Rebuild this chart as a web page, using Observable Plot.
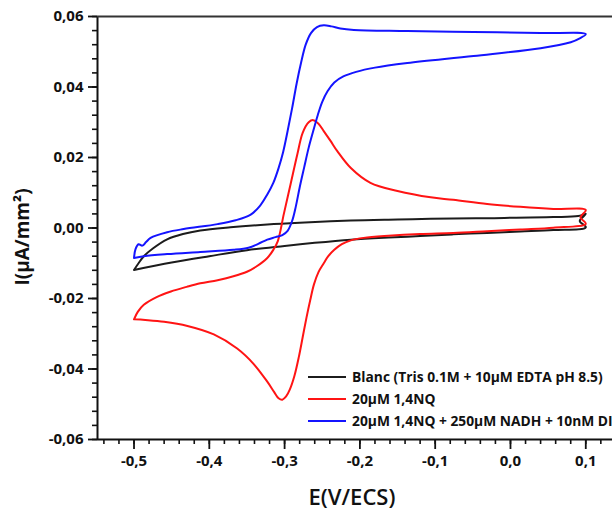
<!DOCTYPE html>
<html><head><meta charset="utf-8">
<script src="https://cdn.jsdelivr.net/npm/d3@7"></script>
<script src="https://cdn.jsdelivr.net/npm/@observablehq/plot@0.6"></script>
<style>body{margin:0;background:#fff} svg{display:block;overflow:hidden}</style>
</head><body><div id="chart"></div>
<script>
// Series names (legend)
const seriesNames = ["Blanc (Tris 0.1M + 10µM EDTA pH 8.5)", "20µM 1,4NQ", "20µM 1,4NQ + 250µM NADH + 10nM DI"];
const seriesColors = ["#1c1c1c", "#ff1414", "#1414ff"];

// Blank CV (E in V/ECS, I in µA/mm²)
const blancE = [-0.500,-0.494,-0.487,-0.475,-0.456,-0.435,-0.412,-0.372,-0.323,-0.280,-0.212,-0.150,-0.106,-0.031,0.057,0.090,0.100,0.092,0.100,0.057,0.013,-0.031,-0.076,-0.120,-0.162,-0.212,-0.260,-0.300,-0.350,-0.400,-0.450,-0.500];
const blancI = [-0.0119,-0.0100,-0.0080,-0.0058,-0.0032,-0.0017,-0.0007,0.0002,0.0010,0.0015,0.0021,0.0024,0.0026,0.0028,0.0031,0.0034,0.0040,0.0020,0.0002,-0.0006,-0.0010,-0.0014,-0.0018,-0.0023,-0.0027,-0.0033,-0.0042,-0.0051,-0.0063,-0.0080,-0.0098,-0.0119];

// 20µM 1,4NQ
const nqE = [-0.500,-0.495,-0.487,-0.470,-0.451,-0.430,-0.412,-0.389,-0.368,-0.350,-0.338,-0.323,-0.315,-0.309,-0.301,-0.292,-0.283,-0.276,-0.268,-0.262,-0.255,-0.248,-0.239,-0.230,-0.212,-0.186,-0.150,-0.106,-0.076,-0.031,0.013,0.057,0.100,0.093,0.100,0.057,0.013,-0.031,-0.076,-0.120,-0.162,-0.195,-0.212,-0.224,-0.234,-0.242,-0.248,-0.255,-0.261,-0.266,-0.271,-0.276,-0.281,-0.287,-0.293,-0.298,-0.303,-0.308,-0.314,-0.323,-0.341,-0.363,-0.394,-0.429,-0.460,-0.485,-0.500];
const nqI = [-0.0259,-0.0238,-0.0218,-0.0196,-0.0180,-0.0167,-0.0157,-0.0148,-0.0137,-0.0124,-0.0110,-0.0085,-0.0062,-0.0037,0.0040,0.0125,0.0210,0.0270,0.0300,0.0306,0.0296,0.0275,0.0247,0.0218,0.0170,0.0128,0.0105,0.0087,0.0080,0.0068,0.0060,0.0054,0.0051,0.0030,0.0012,0.0001,-0.0004,-0.0009,-0.0014,-0.0017,-0.0022,-0.0028,-0.0035,-0.0046,-0.0062,-0.0080,-0.0100,-0.0125,-0.0160,-0.0205,-0.0255,-0.0310,-0.0365,-0.0420,-0.0458,-0.0478,-0.0487,-0.0483,-0.0465,-0.0436,-0.0386,-0.0342,-0.0302,-0.0278,-0.0266,-0.0261,-0.0259];

// 20µM 1,4NQ + 250µM NADH + 10nM DI
const nadhE = [-0.500,-0.498,-0.494,-0.489,-0.484,-0.478,-0.456,-0.434,-0.389,-0.365,-0.345,-0.333,-0.323,-0.315,-0.308,-0.302,-0.296,-0.290,-0.284,-0.278,-0.272,-0.265,-0.257,-0.248,-0.238,-0.226,-0.208,-0.137,-0.049,0.040,0.100,0.092,0.080,0.040,-0.049,-0.137,-0.180,-0.205,-0.222,-0.234,-0.243,-0.250,-0.256,-0.262,-0.268,-0.274,-0.280,-0.285,-0.290,-0.296,-0.303,-0.312,-0.323,-0.335,-0.348,-0.368,-0.412,-0.456,-0.487,-0.500];
const nadhI = [-0.0085,-0.0060,-0.0046,-0.0050,-0.0040,-0.0028,-0.0012,-0.0003,0.0011,0.0022,0.0038,0.0062,0.0095,0.0128,0.0170,0.0215,0.0275,0.0340,0.0410,0.0470,0.0520,0.0553,0.0570,0.0575,0.0572,0.0566,0.0562,0.0559,0.0556,0.0553,0.0550,0.0538,0.0527,0.0510,0.0488,0.0468,0.0455,0.0443,0.0430,0.0413,0.0388,0.0358,0.0320,0.0275,0.0228,0.0172,0.0115,0.0062,0.0020,-0.0008,-0.0020,-0.0026,-0.0033,-0.0045,-0.0056,-0.0062,-0.0068,-0.0074,-0.0080,-0.0085];

// Axis ticks
const xMajor = [-0.5,-0.4,-0.3,-0.2,-0.1,0.0,0.1];
const yMajor = [-0.06,-0.04,-0.02,0.00,0.02,0.04,0.06];
const xMinor = d3.range(-27, 7).map(k => k * 0.02);
const yMinor = d3.range(-15, 16).map(k => k * 0.004);
const xTitle = "E(V/ECS)";
const yTitle = "I(µA/mm²)";

const xDomain = [-0.5485, 0.1355];
const yDomain = [-0.06, 0.06];

const rows = [];
[[blancE, blancI], [nqE, nqI], [nadhE, nadhI]].forEach(([E, I], s) => {
  E.forEach((e, i) => rows.push({series: seriesNames[s], E: e, I: I[i]}));
});

const fmtX = d => (Math.abs(d) < 1e-9 ? 0 : d).toFixed(1).replace(".", ",");
const fmtY = d => (Math.abs(d) < 1e-9 ? 0 : d).toFixed(2).replace(".", ",");

const plot = Plot.plot({
  width: 612, height: 511,
  marginLeft: 97, marginRight: 0, marginTop: 16, marginBottom: 72,
  x: {domain: xDomain, label: null},
  y: {domain: yDomain, label: null},
  color: {domain: seriesNames, range: seriesColors},
  style: {fontFamily: "'Open Sans', sans-serif", fontWeight: "bold", color: "#111", background: "#fff"},
  marks: [
    Plot.axisX(xMinor, {tickSize: 5, tickFormat: () => "", strokeWidth: 1.6}),
    Plot.axisX(xMajor, {tickSize: 10, tickPadding: 6, tickFormat: fmtX, fontSize: 15, strokeWidth: 1.8}),
    Plot.axisY(yMinor, {tickSize: 5, tickFormat: () => "", strokeWidth: 1.6}),
    Plot.axisY(yMajor, {tickSize: 9, tickPadding: 5, tickFormat: fmtY, fontSize: 15, strokeWidth: 1.8}),
    Plot.line(rows, {x: "E", y: "I", z: "series", stroke: "series", strokeWidth: 2, curve: "catmull-rom"}),
    Plot.ruleX([xDomain[0]], {stroke: "#111", strokeWidth: 2}),
    Plot.ruleY([yDomain[0]], {stroke: "#111", strokeWidth: 2}),
    Plot.ruleY([yDomain[1]], {stroke: "#333", strokeWidth: 2})
  ]
});

const svg = d3.select(plot);
// Axis titles
svg.append("text").attr("x", 352).attr("y", 497).attr("dy", "0.35em")
  .attr("text-anchor", "middle").attr("font-family", "'Open Sans', sans-serif")
  .attr("font-weight", 600).attr("font-size", 22).attr("fill", "#111").text(xTitle);
svg.append("text").attr("transform", "translate(22,237) rotate(-90)").attr("dy", "0.35em")
  .attr("text-anchor", "middle").attr("font-family", "'Open Sans', sans-serif")
  .attr("font-weight", "bold").attr("font-size", 19).attr("fill", "#111").text(yTitle);

// Legend inside the plot (lower right)
const leg = svg.append("g").attr("font-family", "'Open Sans', sans-serif").attr("font-weight", "bold")
  .attr("font-size", 13.8).attr("text-anchor", "start");
const legY = [377, 399, 421];
seriesNames.forEach((name, i) => {
  leg.append("line").attr("x1", 308).attr("x2", 346).attr("y1", legY[i]).attr("y2", legY[i])
    .attr("stroke", seriesColors[i]).attr("stroke-width", 2);
  leg.append("text").attr("x", 352).attr("y", legY[i]).attr("dy", "0.35em").attr("fill", "#111").text(name);
});

document.getElementById("chart").appendChild(plot);
</script>
</body></html>
